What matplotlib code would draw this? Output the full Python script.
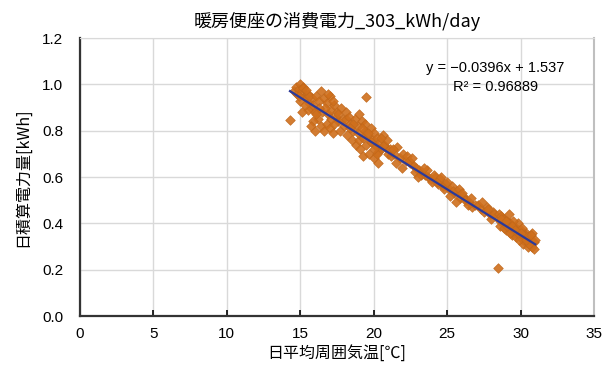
import matplotlib
matplotlib.use('Agg')
import numpy as np
from matplotlib import pyplot as plt

plt.rcParams['font.family'] = ['Noto Sans CJK JP', 'DejaVu Sans']

title = '暖房便座の消費電力_303_kWh/day'
x_label = '日平均周囲気温[℃]'
y_label = '日積算電力量[kWh]'

# daily mean ambient temperature [C]
temp = [
    14.3, 14.6, 14.7, 14.8, 14.9, 15.0, 15.1, 15.2, 15.3, 15.0, 15.4, 15.5, 15.6, 15.7,
    15.5, 15.8, 15.9, 16.0, 15.3, 15.1, 14.9, 15.2, 15.6, 15.4,
    16.1, 16.3, 16.4, 16.6, 16.8, 17.0, 16.2, 16.4, 16.6, 16.8, 17.0, 17.2, 16.5, 16.9,
    17.1, 17.3, 17.4, 17.6, 17.5, 17.8, 17.9, 18.0, 17.7, 17.3, 15.9, 15.7, 16.0, 16.7,
    16.3, 17.1, 16.1, 16.9, 17.6, 17.2, 18.1,
    18.1, 18.3, 18.4, 18.6, 18.7, 18.9, 19.0, 19.2, 19.4, 19.5, 19.6, 19.8, 19.9, 20.0,
    20.1, 20.2, 20.4, 20.5, 20.6, 20.8, 21.0, 18.5, 18.8, 19.1, 19.3, 19.7, 20.0, 20.3,
    19.5, 18.2, 19.0, 18.6, 19.3, 19.8, 20.3, 20.7, 21.1, 20.9, 18.4, 19.6, 20.2, 18.9,
    19.4, 20.5, 21.2, 20.0, 19.2,
    21.4, 21.6, 21.8, 22.0, 22.2, 22.3, 22.5, 22.7, 22.9, 23.1, 23.3, 23.5, 23.7, 23.9,
    21.5, 21.9, 22.4, 22.8, 23.2, 23.6, 24.0, 24.2, 24.4, 21.3, 22.6, 23.0, 23.4,
    24.1, 24.3, 24.5, 24.7, 24.9, 25.1, 25.3, 25.5, 25.7, 25.9, 26.1, 26.3, 26.5, 26.7,
    24.6, 25.0, 25.4, 25.8, 26.2, 26.6, 26.9, 24.8, 25.2, 25.6, 26.0, 26.4,
    27.1, 27.3, 27.5, 27.7, 27.9, 28.1, 28.3, 27.4, 27.8, 28.0, 28.2, 28.45,
    28.5, 28.6, 28.7, 28.8, 28.9, 29.0, 29.1, 29.2, 29.3, 29.4, 29.5, 29.6, 29.7, 29.8,
    29.9, 30.0, 30.1, 30.2, 30.3, 30.4, 30.5, 30.6, 30.7, 30.8, 30.9,
    28.6, 28.8, 29.0, 29.2, 29.4, 29.6, 29.8, 30.0, 30.2, 30.4, 30.6, 30.8,
    28.7, 28.9, 29.1, 29.3, 29.5, 29.7, 29.9, 30.1, 30.3, 30.5, 30.7, 31.0,
    29.0, 29.4, 29.8, 30.2, 30.6, 29.6, 30.0, 30.4, 30.9, 29.2,
]

# daily energy consumption [kWh]
energy = [
    0.845, 0.97, 0.99, 0.96, 0.98, 1.00, 0.97, 0.99, 0.95, 0.93, 0.94, 0.96, 0.92, 0.90,
    0.89, 0.94, 0.91, 0.88, 0.91, 0.88, 0.95, 0.985, 0.95, 0.975,
    0.95, 0.93, 0.97, 0.94, 0.92, 0.95, 0.85, 0.82, 0.80, 0.83, 0.81, 0.79, 0.88, 0.87,
    0.89, 0.91, 0.86, 0.84, 0.88, 0.90, 0.85, 0.82, 0.80, 0.83, 0.84, 0.82, 0.80, 0.90,
    0.90, 0.85, 0.87, 0.96, 0.87, 0.93, 0.85,
    0.88, 0.86, 0.83, 0.80, 0.85, 0.82, 0.87, 0.84, 0.80, 0.945, 0.78, 0.81, 0.76, 0.79,
    0.74, 0.77, 0.75, 0.72, 0.78, 0.73, 0.70, 0.76, 0.74, 0.72, 0.69, 0.70, 0.68, 0.66,
    0.74, 0.78, 0.76, 0.83, 0.77, 0.75, 0.71, 0.74, 0.72, 0.76, 0.81, 0.79, 0.70, 0.79,
    0.83, 0.77, 0.69, 0.72, 0.81,
    0.70, 0.73, 0.68, 0.70, 0.67, 0.69, 0.66, 0.65, 0.64, 0.63, 0.62, 0.61, 0.60, 0.59,
    0.66, 0.64, 0.67, 0.62, 0.61, 0.63, 0.58, 0.60, 0.57, 0.72, 0.68, 0.60, 0.64,
    0.61, 0.58, 0.59, 0.56, 0.57, 0.55, 0.56, 0.53, 0.54, 0.51, 0.52, 0.50, 0.49, 0.47,
    0.60, 0.58, 0.54, 0.55, 0.50, 0.51, 0.48, 0.55, 0.52, 0.49, 0.53, 0.48,
    0.48, 0.46, 0.45, 0.47, 0.44, 0.45, 0.43, 0.49, 0.46, 0.42, 0.44, 0.207,
    0.44, 0.41, 0.43, 0.40, 0.42, 0.39, 0.41, 0.38, 0.40, 0.37, 0.39, 0.36, 0.38, 0.35,
    0.37, 0.34, 0.36, 0.33, 0.35, 0.32, 0.34, 0.31, 0.33, 0.30, 0.32,
    0.39, 0.42, 0.37, 0.40, 0.35, 0.38, 0.40, 0.37, 0.31, 0.36, 0.34, 0.36,
    0.42, 0.38, 0.39, 0.36, 0.41, 0.34, 0.33, 0.38, 0.35, 0.30, 0.35, 0.33,
    0.41, 0.39, 0.36, 0.35, 0.31, 0.37, 0.36, 0.33, 0.29, 0.44,
]

# linear trendline coefficients
slope = -0.0396
intercept = 1.537
r2 = 0.96889

fig = plt.figure(figsize=(6.03, 3.69), dpi=100)
ax = fig.add_axes([0.1327, 0.1436, 0.8523, 0.7534])

ax.scatter(temp, energy, marker='D', s=24, color='#cf6f1c', edgecolors='#c0671a',
           linewidths=0.5, alpha=0.9, zorder=3)

tx = np.array([min(temp), max(temp)])
ax.plot(tx, slope * tx + intercept, color='#2b3a9a', lw=1.6, zorder=4)

ax.text(28.25, 1.07, f'y = \u22120.0396x + 1.537', ha='center', va='center',
        fontsize=10.5, family=['Liberation Sans', 'DejaVu Sans'], zorder=5)
ax.text(28.3, 0.99, f'R² = {r2}', ha='center', va='center',
        fontsize=10.5, family=['Liberation Sans', 'DejaVu Sans'], zorder=5)

ax.set_xlim(0, 35)
ax.set_ylim(0, 1.2)
ax.set_xticks(range(0, 36, 5))
ax.set_yticks(np.arange(0, 1.21, 0.2))
ax.set_yticklabels([f'{v:.1f}' for v in np.arange(0, 1.21, 0.2)])
ax.grid(color='#d9d9d9', lw=1)
ax.set_axisbelow(True)

ax.tick_params(axis='x', direction='in', length=4, width=1.2, pad=8, labelsize=11)
ax.tick_params(axis='y', length=0, pad=12, labelsize=11)
for lbl in ax.get_xticklabels() + ax.get_yticklabels():
    lbl.set_family(['Liberation Sans', 'DejaVu Sans'])

ax.spines['left'].set_color('#333333')
ax.spines['bottom'].set_color('#333333')
ax.spines['left'].set_linewidth(1.6)
ax.spines['bottom'].set_linewidth(1.6)
ax.spines['top'].set_color('#d9d9d9')
ax.spines['right'].set_color('#bfbfbf')
ax.spines['right'].set_linewidth(1.5)

ax.set_title(title, fontsize=13, pad=8)
ax.set_xlabel(x_label, fontsize=11.5, labelpad=3)
ax.set_ylabel(y_label, fontsize=11.5, labelpad=8)

fig.savefig('out.png', dpi=100)
